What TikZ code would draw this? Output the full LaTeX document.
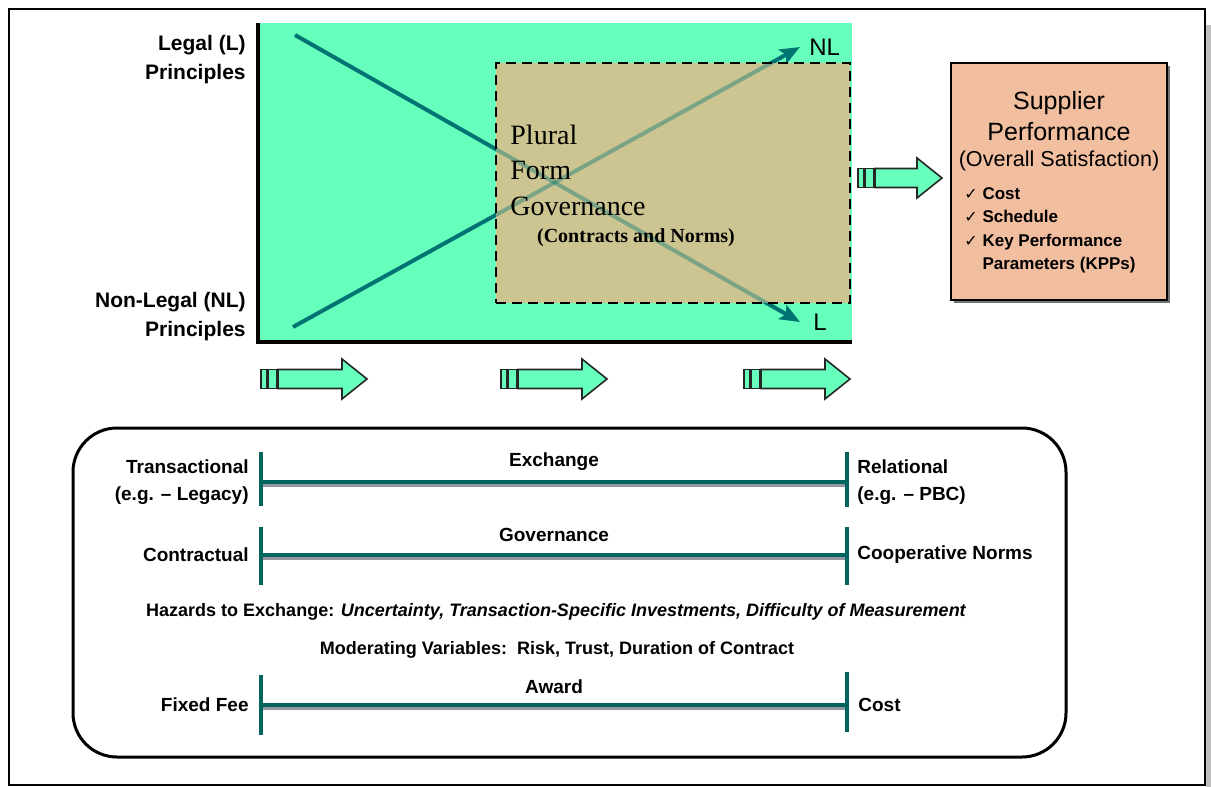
\documentclass[tikz,border=0pt]{standalone}
\usepackage{fontspec}
\setmainfont{Liberation Sans}
\newfontfamily\plainserif{Liberation Serif}
\newfontfamily\ticksym{DejaVu Sans}
\usetikzlibrary{positioning, arrows.meta}

\definecolor{chartgreen}{RGB}{102,255,187}
\definecolor{trendteal}{RGB}{0,115,115}
\definecolor{pluraltan}{RGB}{204,197,145}
\definecolor{supsalmon}{RGB}{242,190,160}
\definecolor{barteal}{RGB}{0,100,95}
\definecolor{barshadow}{RGB}{150,150,160}

\newcommand{\tck}{{\ticksym\fontsize{8}{9}\selectfont ✓}}

\tikzset{
  flowarrow/.pic={
    \draw[arrowline] (0,-9.5) rectangle (6,9.5);
    \draw[arrowline] (7,-9.5) rectangle (16,9.5);
    \draw[arrowline] (17,-9.5) -- (#1-25,-9.5) -- (#1-25,-20) -- (#1,0)
      -- (#1-25,20) -- (#1-25,9.5) -- (17,9.5) -- cycle;
  }
}

\begin{document}
\begin{tikzpicture}[x=0.5pt,y=-0.5pt,
  trend/.style={trendteal, line width=2pt, -{Stealth[length=10pt,width=8pt,inset=2pt]}},
  axis/.style={line width=1.8pt},
  pluralbox/.style={draw, line width=1.2pt, dash pattern=on 5pt off 3pt,
    fill=pluraltan, minimum width=177pt, minimum height=120pt},
  leftlbl/.style={font=\bfseries\fontsize{10.5}{14.5}\selectfont, inner sep=0pt, align=right},
  arrowline/.style={draw=black!85, line width=0.8pt, fill=chartgreen},
  supbox/.style={draw, line width=1.2pt, fill=supsalmon, minimum width=108pt, minimum height=118.5pt},
  barline/.style={barteal, line width=1.6pt},
  barshade/.style={barshadow, line width=1.3pt},
  bartick/.style={barteal, line width=1.8pt},
  barlbl/.style={font=\bfseries\fontsize{9.5}{13.5}\selectfont, inner sep=0pt},
  midlbl/.style={font=\bfseries\fontsize{9.5}{11}\selectfont, text=black, inner sep=0pt}]

\useasboundingbox (0,0) rectangle (1211,787);

% outer frame
\fill[black!25] (1206,25) rectangle (1211,787);
\draw[line width=1pt] (9,9) rectangle (1205,785);

% chart of principles
\fill[chartgreen] (259,23) rectangle (852,341);
\coordinate (Lstart) at (295,35);
\coordinate (Lend) at (800,322);
\coordinate (NLstart) at (293,327);
\coordinate (NLend) at (800,47);
\draw[trend] (Lstart) -- (Lend);
\draw[trend] (NLstart) -- (NLend);
\node[font=\fontsize{12}{14}\selectfont, anchor=west, inner sep=0pt] (NLlab) at (809,47) {NL};
\node[font=\fontsize{12}{14}\selectfont, anchor=west, inner sep=0pt] (Llab) at (813,322) {L};

\node[pluralbox] (plural) at (673,183) {};
% trend lines seen through the plural box
\begin{scope}
  \clip (plural.south west) rectangle (plural.north east);
  \draw[trendteal, line width=2pt, opacity=0.4] (Lstart) -- (Lend);
  \draw[trendteal, line width=2pt, opacity=0.4] (NLstart) -- (NLend);
\end{scope}
\node[draw, line width=1.2pt, dash pattern=on 5pt off 3pt, minimum width=177pt, minimum height=120pt]
  (pluraledge) at (plural) {};
\node[font=\plainserif\fontsize{14}{17.75}\selectfont, align=left, anchor=west, inner sep=0pt]
  (pluraltxt) at (510,170) {Plural\\Form\\Governance};
\node[font=\plainserif\bfseries\fontsize{10}{12}\selectfont, inner sep=0pt]
  (normstxt) at (636,238) {(Contracts and Norms)};

\draw[axis] (258,23) -- (258,342) -- (852,342);

\node[leftlbl, anchor=east] (legal) at (246,60) {Legal (L)\\Principles};
\node[leftlbl, anchor=east] (nonlegal) at (246,317) {Non-Legal (NL)\\Principles};

% supplier performance
\fill[black!55] (954,66) rectangle (1170,303);
\node[supbox] (supplier) at (1059,181.5) {};
\node[font=\fontsize{12.5}{15.5}\selectfont, align=center, inner sep=0pt] (suptitle) at (1059,116) {Supplier\\Performance};
\node[font=\fontsize{10.8}{13}\selectfont, inner sep=0pt] (supsub) at (1059,161) {(Overall Satisfaction)};
\node[font=\bfseries\fontsize{8.5}{11.75}\selectfont, align=left, anchor=north west, inner sep=0pt]
  (suplist) at (964,187) {\tck\ Cost\\\tck\ Schedule\\\tck\ Key Performance\\\hphantom{\tck\ }Parameters (KPPs)};

% block arrows
\pic at (858,178) {flowarrow=84};
\pic at (261,379) {flowarrow=106};
\pic at (501,379) {flowarrow=106};
\pic at (744,379) {flowarrow=106};

% continuum box
\draw[line width=1.5pt, rounded corners=22pt] (73,428) rectangle (1066,757);

\coordinate (exL) at (261,482);
\coordinate (exR) at (847,482);
\draw[barshade] ([yshift=-1.6pt]exL) -- ([yshift=-1.6pt]exR);
\draw[barline] (exL) -- node[midlbl, above=5pt] (exlab) {Exchange} (exR);
\draw[bartick] ([yshift=15pt]exL) -- ([yshift=-12pt]exL);
\draw[bartick] ([yshift=15pt]exR) -- ([yshift=-12.5pt]exR);
\node[barlbl, anchor=east, align=right] (trans) at (249,482) {Transactional\\(e.g. – Legacy)};
\node[barlbl, anchor=west, align=left] (relat) at (857,482) {Relational\\(e.g. – PBC)};

\coordinate (govL) at (261,555);
\coordinate (govR) at (847,555);
\draw[barshade] ([yshift=-1.6pt]govL) -- ([yshift=-1.6pt]govR);
\draw[barline] (govL) -- node[midlbl, above=6pt] (govlab) {Governance} (govR);
\draw[bartick] ([yshift=14pt]govL) -- ([yshift=-15pt]govL);
\draw[bartick] ([yshift=14pt]govR) -- ([yshift=-15pt]govR);
\node[barlbl, anchor=east] (contr) at (249,555) {Contractual};
\node[barlbl, anchor=west] (coop) at (857,555) {Cooperative Norms};

\node[font=\bfseries\fontsize{9}{11}\selectfont, inner sep=0pt] (hazards) at (556,612)
  {Hazards to Exchange: \itshape Uncertainty, Transaction-Specific Investments, Difficulty of Measurement};
\node[font=\bfseries\fontsize{9}{11}\selectfont, inner sep=0pt] (moder) at (557,650)
  {Moderating Variables:\ \ Risk, Trust, Duration of Contract};

\coordinate (awL) at (261,705);
\coordinate (awR) at (847,705);
\draw[barshade] ([yshift=-1.6pt]awL) -- ([yshift=-1.6pt]awR);
\draw[barline] (awL) -- node[midlbl, above=5pt] (awlab) {Award} (awR);
\draw[bartick] ([yshift=15pt]awL) -- ([yshift=-15pt]awL);
\draw[bartick] ([yshift=16.5pt]awR) -- ([yshift=-13.5pt]awR);
\node[barlbl, anchor=east] (fixed) at (249,705) {Fixed Fee};
\node[barlbl, anchor=west] (cost) at (858,705) {Cost};

\end{tikzpicture}
\end{document}
